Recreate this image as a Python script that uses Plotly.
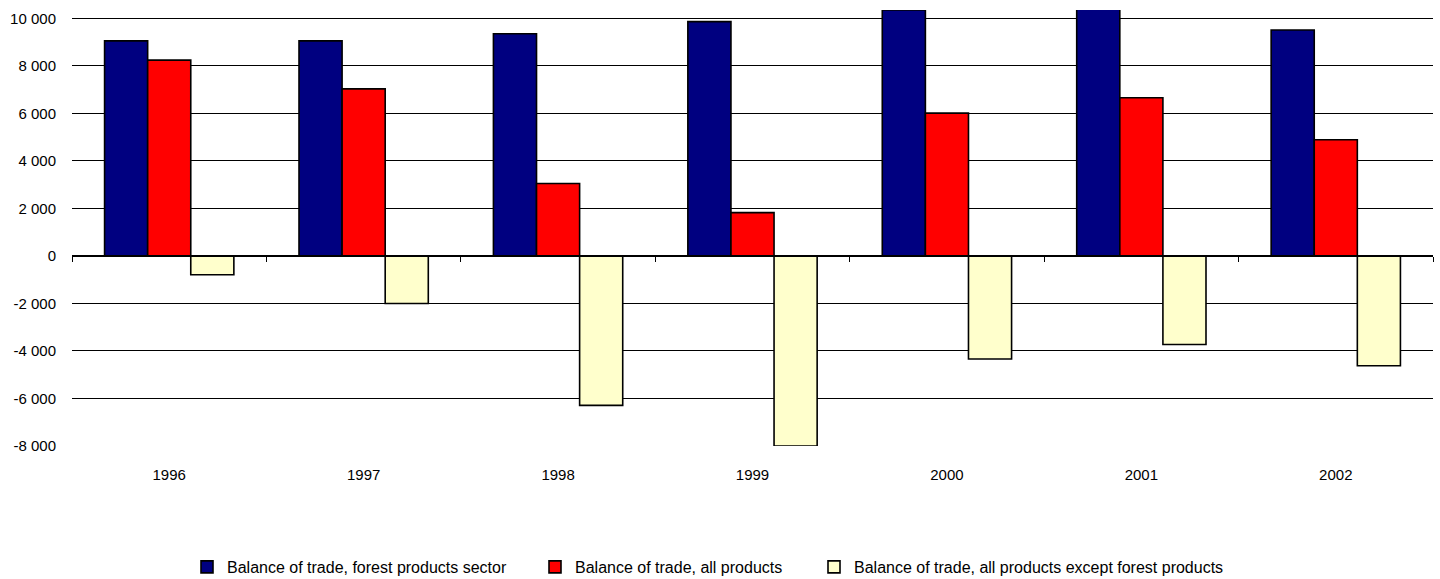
import plotly.graph_objects as go

years = ["1996", "1997", "1998", "1999", "2000", "2001", "2002"]
forest_sector = [9050, 9050, 9350, 9860, 10350, 10390, 9510]
all_products = [8240, 7030, 3050, 1820, 6010, 6660, 4890]
except_forest = [-790, -2000, -6290, -8000, -4340, -3730, -4620]

series_names = [
    "Balance of trade, forest products sector",
    "Balance of trade, all products",
    "Balance of trade, all products except forest products",
]
series_colors = ["#000080", "#FF0000", "#FFFFCC"]

y_tick_vals = [-8000, -6000, -4000, -2000, 0, 2000, 4000, 6000, 8000, 10000]
y_tick_text = ["-8 000", "-6 000", "-4 000", "-2 000", "0", "2 000", "4 000", "6 000", "8 000", "10 000"]

y_range = [-8000, 10350]

FONT = "Liberation Sans, Arial, sans-serif"

fig = go.Figure()
legend_ids = ["legend", "legend2", "legend3"]
for name, vals, color, lg in zip(series_names, [forest_sector, all_products, except_forest], series_colors, legend_ids):
    fig.add_trace(go.Bar(
        x=years, y=vals, name=name,
        marker=dict(color=color, line=dict(color="black", width=1.6)),
        legend=lg,
    ))

# empty helper trace so the zero-crossing category axis (ticks between years) is drawn
fig.add_trace(go.Bar(x=years, y=[None] * len(years), xaxis="x2", yaxis="y",
                     showlegend=False, hoverinfo="skip"))

W, H = 1440, 579
plot_left, plot_right = 72, 1433

legend_common = dict(
    orientation="h", yanchor="middle", y=1 - 567 / H, xanchor="left",
    xref="container", yref="container",
    font=dict(family=FONT, size=16, color="black"),
    bgcolor="rgba(0,0,0,0)", borderwidth=0,
)

zero_pos = (0 - y_range[0]) / (y_range[1] - y_range[0])

fig.update_layout(
    width=W, height=H,
    margin=dict(l=plot_left, r=W - plot_right, t=10, b=133),
    paper_bgcolor="white", plot_bgcolor="white",
    barmode="group", bargap=0.335, bargroupgap=0,
    font=dict(family=FONT, size=15, color="black"),
    showlegend=True,
    legend=dict(x=187 / W, **legend_common),
    legend2=dict(x=535 / W, **legend_common),
    legend3=dict(x=814 / W, **legend_common),
    xaxis=dict(
        type="category", showgrid=False, ticks="", showline=False, zeroline=False,
        tickfont=dict(family=FONT, size=15, color="black"), ticklabelstandoff=18,
        automargin=False,
    ),
    xaxis2=dict(
        type="category", overlaying="x", anchor="free", position=zero_pos,
        categoryorder="array", categoryarray=years, range=[-0.5, len(years) - 0.5],
        tickson="boundaries", ticks="outside", ticklen=5, tickcolor="black", tickwidth=1,
        showticklabels=False, showline=True, linecolor="black", linewidth=1,
        showgrid=False, zeroline=False, automargin=False,
    ),
    yaxis=dict(
        range=y_range, tickvals=y_tick_vals, ticktext=y_tick_text,
        showgrid=True, gridcolor="black", gridwidth=1,
        zeroline=True, zerolinecolor="black", zerolinewidth=1,
        showline=False, ticks="", ticklabelstandoff=15,
        tickfont=dict(family=FONT, size=15, color="black"),
        automargin=False,
    ),
)

fig.write_html(
    "out.html",
    config={"displayModeBar": False},
    post_script="document.body.style.margin='0';document.body.style.overflow='hidden';",
)
